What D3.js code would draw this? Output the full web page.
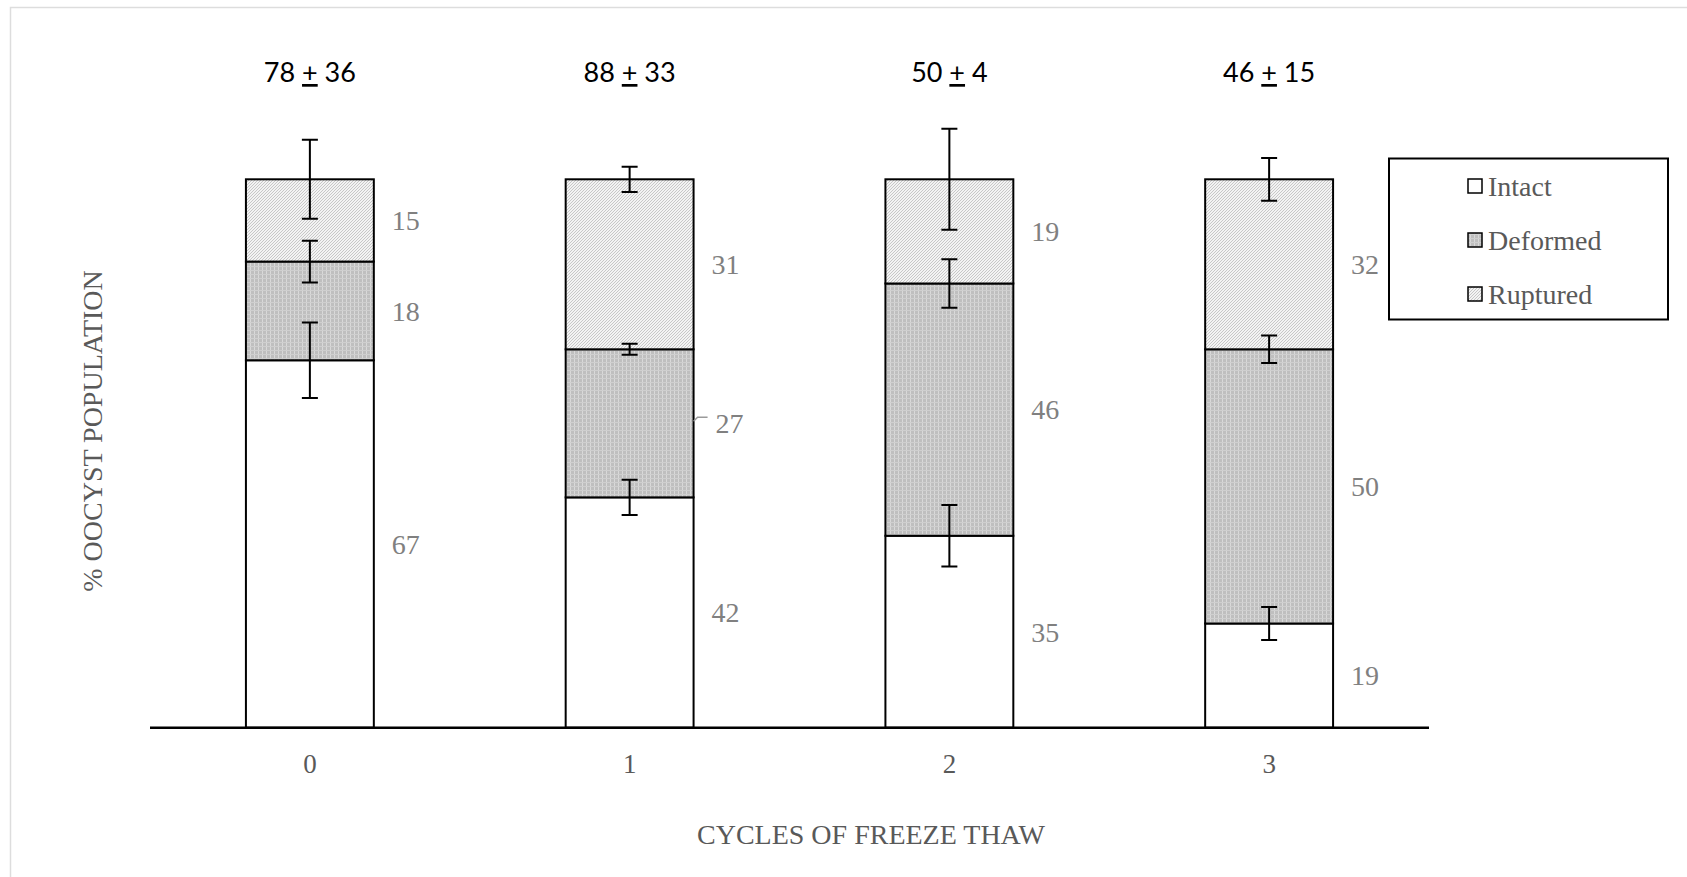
<!DOCTYPE html>
<html>
<head>
<meta charset="utf-8">
<script src="https://cdn.jsdelivr.net/npm/d3@7"></script>
<style>
  html, body { margin: 0; padding: 0; background: #ffffff; }
  svg { display: block; }
</style>
</head>
<body>
<div id="chart"></div>
<script>
// Oocyst condition after repeated freeze–thaw cycles (percent of population)
const categories = ["0", "1", "2", "3"];
const seriesNames = ["Intact", "Deformed", "Ruptured"];
const intact   = [67, 42, 35, 19];
const deformed = [18, 27, 46, 50];
const ruptured = [15, 31, 19, 32];
// standard errors for each segment (percentage points)
const intactErr   = [6.9, 3.2, 5.6, 3.0];
const deformedErr = [3.8, 1.0, 4.4, 2.5];
const rupturedErr = [7.2, 2.3, 9.2, 3.9];
// oocyst counts per cycle (mean ± sd), shown above each bar
const countMean = [78, 88, 50, 46];
const countSd   = [36, 33, 4, 15];

const W = 1687, H = 877;
const plot = { left: 150, right: 1429, top: 179.3, bottom: 727.7 };

const svg = d3.select("#chart").append("svg")
  .attr("width", W).attr("height", H);

// chart-area frame
svg.append("rect")
  .attr("x", 10.5).attr("y", 7.5)
  .attr("width", W + 20).attr("height", H + 20)
  .attr("fill", "#ffffff").attr("stroke", "#dddddd").attr("stroke-width", 1.5);

// fill patterns
const defs = svg.append("defs");
const pDef = defs.append("pattern").attr("id", "patDeformed")
  .attr("patternUnits", "userSpaceOnUse").attr("width", 4).attr("height", 4);
pDef.append("rect").attr("width", 4).attr("height", 4).attr("fill", "#bfbfbf");
pDef.append("rect").attr("x", 2).attr("width", 1).attr("height", 4).attr("fill", "#d9d9d9");
pDef.append("rect").attr("y", 2).attr("width", 4).attr("height", 1).attr("fill", "#cfcfcf");

const pRup = defs.append("pattern").attr("id", "patRuptured")
  .attr("patternUnits", "userSpaceOnUse").attr("width", 3).attr("height", 3);
pRup.append("rect").attr("width", 3).attr("height", 3).attr("fill", "#f3f3f3");
pRup.append("path").attr("d", "M-1,1 L1,-1 M0,3 L3,0 M2,4 L4,2")
  .attr("stroke", "#c2c2c2").attr("stroke-width", 0.9);

const fills = { Intact: "#ffffff", Deformed: "url(#patDeformed)", Ruptured: "url(#patRuptured)" };
const errs = { Intact: intactErr, Deformed: deformedErr, Ruptured: rupturedErr };

const rows = categories.map((c, i) => ({
  cat: c, Intact: intact[i], Deformed: deformed[i], Ruptured: ruptured[i]
}));
const stacked = d3.stack().keys(seriesNames)(rows);

const x = d3.scaleBand().domain(categories)
  .range([plot.left, plot.right]).paddingInner(0.6).paddingOuter(0.3);
const y = d3.scaleLinear().domain([0, 100]).range([plot.bottom, plot.top]);
const yBar = y.copy().clamp(true);

// stacked bars
const layers = svg.append("g").selectAll("g").data(stacked).join("g");
layers.selectAll("rect")
  .data(s => s.map((d, i) => ({ key: s.key, i, y0: d[0], y1: d[1] })))
  .join("rect")
  .attr("x", d => x(categories[d.i]))
  .attr("width", x.bandwidth())
  .attr("y", d => yBar(d.y1))
  .attr("height", d => yBar(d.y0) - yBar(d.y1))
  .attr("fill", d => fills[d.key])
  .attr("stroke", "#000000").attr("stroke-width", 2);

// x axis line and category labels
const xAxis = svg.append("g")
  .attr("transform", `translate(0,${plot.bottom})`)
  .call(d3.axisBottom(x).tickSize(0).tickPadding(26));
xAxis.select(".domain").attr("d", `M${plot.left},0H${plot.right}`)
  .attr("stroke", "#000000").attr("stroke-width", 2.5);
xAxis.selectAll("text")
  .attr("font-family", "'Liberation Serif', 'Times New Roman', serif")
  .attr("font-size", 27).attr("fill", "#595959");

// error bars on each segment top
const cap = 8;
const eb = svg.append("g").attr("stroke", "#000000").attr("stroke-width", 2).attr("fill", "none");
stacked.forEach(s => {
  s.forEach((d, i) => {
    const top = Math.min(d[1], 100);
    const e = errs[s.key][i];
    const cx = x(categories[i]) + x.bandwidth() / 2;
    const yHi = y(top + e), yLo = y(top - e);
    eb.append("path")
      .attr("d", `M${cx},${yHi}V${yLo}M${cx - cap},${yHi}H${cx + cap}M${cx - cap},${yLo}H${cx + cap}`);
  });
});

// segment value labels to the right of each bar
const lbl = svg.append("g")
  .attr("font-family", "'Liberation Serif', 'Times New Roman', serif")
  .attr("font-size", 28).attr("fill", "#808080");
const leaderSeg = { Deformed: [1] }; // labels drawn with a short leader line
stacked.forEach(s => {
  s.forEach((d, i) => {
    const mid = (yBar(d[0]) + yBar(d[1])) / 2;
    const right = x(categories[i]) + x.bandwidth();
    const hasLeader = (leaderSeg[s.key] || []).includes(i);
    if (hasLeader) {
      svg.append("path")
        .attr("d", `M${right},${mid - 2}L${right + 4},${mid - 6}H${right + 14}`)
        .attr("stroke", "#9a9a9a").attr("stroke-width", 1.5).attr("fill", "none");
    }
    lbl.append("text")
      .attr("x", right + (hasLeader ? 22 : 18))
      .attr("y", mid)
      .attr("dy", "0.35em")
      .text(d.data[s.key]);
  });
});

// counts above bars: mean ± sd
const cnt = svg.append("g")
  .attr("font-family", "Lato, 'Open Sans', sans-serif")
  .attr("font-size", 27).attr("fill", "#000000")
  .attr("text-anchor", "middle");
categories.forEach((c, i) => {
  const t = cnt.append("text")
    .attr("x", x(c) + x.bandwidth() / 2)
    .attr("y", 82);
  t.append("tspan").text(countMean[i] + " ");
  t.append("tspan").attr("text-decoration", "underline").text("+");
  t.append("tspan").text(" " + countSd[i]);
});

// axis titles
svg.append("text")
  .attr("x", 871).attr("y", 844)
  .attr("text-anchor", "middle")
  .attr("font-family", "'Liberation Serif', 'Times New Roman', serif")
  .attr("font-size", 28).attr("fill", "#595959")
  .text("CYCLES OF FREEZE THAW");

svg.append("text")
  .attr("transform", "translate(102,431) rotate(-90)")
  .attr("text-anchor", "middle")
  .attr("font-family", "'Liberation Serif', 'Times New Roman', serif")
  .attr("font-size", 28).attr("fill", "#595959")
  .text("% OOCYST POPULATION");

// legend
const legend = svg.append("g");
legend.append("rect")
  .attr("x", 1389).attr("y", 158.5).attr("width", 279).attr("height", 161)
  .attr("fill", "#ffffff").attr("stroke", "#000000").attr("stroke-width", 2);
const legY = d3.scalePoint().domain(seriesNames).range([186, 294]);
const items = legend.selectAll("g.item").data(seriesNames).join("g")
  .attr("class", "item")
  .attr("transform", d => `translate(1468,${legY(d)})`);
items.append("rect")
  .attr("x", 0).attr("y", -7).attr("width", 14).attr("height", 14)
  .attr("fill", d => fills[d]).attr("stroke", "#000000").attr("stroke-width", 1.5);
items.append("text")
  .attr("x", 20).attr("y", 0).attr("dy", "0.35em")
  .attr("font-family", "'Liberation Serif', 'Times New Roman', serif")
  .attr("font-size", 28).attr("fill", "#595959")
  .text(d => d);
</script>
</body>
</html>
